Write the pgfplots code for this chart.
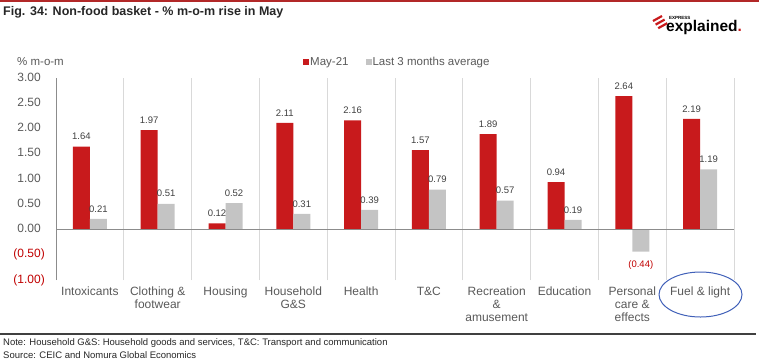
\documentclass[border=0pt]{standalone}
\usepackage{pgfplots}
\pgfplotsset{compat=1.18}
\usepackage{fontspec}
\setmainfont{Liberation Sans}
\definecolor{barred}{HTML}{C81A1C}
\definecolor{bargray}{HTML}{C4C4C4}
\definecolor{negred}{HTML}{C00000}
\definecolor{textgray}{HTML}{595959}
\definecolor{labgray}{HTML}{404040}
\definecolor{sepgray}{HTML}{D9D9D9}
\definecolor{axgray}{HTML}{8C8C8C}
\definecolor{circblue}{HTML}{4060B8}
\begin{document}
\begin{tikzpicture}
\useasboundingbox (0,0) rectangle (759pt,-362pt);
% top rule and title
\draw[line width=1.5pt, color={rgb,255:red,178;green,40;blue,40}] (0,-0.75pt) -- (759pt,-0.75pt);
\node[anchor=west, inner sep=0pt, text={rgb,255:red,38;green,38;blue,38}, font=\bfseries\fontsize{12.5}{14}\selectfont] at (3pt,-12.5pt) {Fig. 34: Non-food basket - \% m-o-m rise in May};
% logo
\foreach \i in {0,1,2}{
  \draw[barred, line width=2.2pt] (653pt+\i*2.6pt,-21pt-\i*3.6pt) -- (662pt+\i*2.6pt,-16pt-\i*3.6pt);
}
\node[anchor=south west, inner sep=0pt, font=\bfseries\fontsize{4.5}{5}\selectfont] at (669pt,-19.5pt) {EXPRESS};
\node[anchor=base west, inner sep=0pt, font=\bfseries\fontsize{15.5}{16}\selectfont] at (666pt,-31.5pt) {explained\textcolor{barred}{.}};
% y label
\node[anchor=west, inner sep=0pt, text=textgray, font=\fontsize{11.5}{12}\selectfont] at (17pt,-62pt) {\% m-o-m};
\begin{axis}[
  at={(56pt,-280pt)}, anchor=south west,
  width=678pt, height=202pt, scale only axis,
  ybar=0pt, bar width=17pt,
  xmin=-0.5, xmax=9.5, ymin=-1, ymax=3,
  enlargelimits=false,
  axis x line*=bottom, axis y line*=left,
  x axis line style={draw=none},
  y axis line style={draw=axgray, line width=1pt},
  xtick={0,...,9},
  xticklabels={Intoxicants,{Clothing \&\\footwear},Housing,{Household\\G\&S},Health,T\&C,{Recreation\\\&\\amusement},Education,{Personal\\care \&\\effects},Fuel \& light},
  xticklabel style={align=center, inner sep=0pt, anchor=north, yshift=-7pt, text=textgray, font=\fontsize{12}{12.8}\selectfont},
  ytick={-1,-0.5,...,3},
  yticklabels={\textcolor{negred}{(1.00)},\textcolor{negred}{(0.50)},0.00\phantom{)},0.50\phantom{)},1.00\phantom{)},1.50\phantom{)},2.00\phantom{)},2.50\phantom{)},3.00\phantom{)}},
  yticklabel style={anchor=east, inner sep=0pt, xshift=-11pt, text=textgray, font=\fontsize{12}{12}\selectfont},
  major tick length=0pt, minor tick length=0pt,
  tick style={draw=none},
  minor xtick={0.5,1.5,...,9.5},
  xminorgrids=true,
  minor x grid style={draw=sepgray, line width=0.9pt},
  nodes near coords,
  point meta=explicit symbolic,
  nodes near coords style={font=\fontsize{9.5}{10}\selectfont, text=labgray, inner ysep=6.5pt, inner xsep=0.5pt, anchor=south},
  legend style={at={(axis description cs:0.3643,1.079)}, anchor=west, draw=none, fill=none, inner sep=0pt, font=\fontsize{11.5}{12}\selectfont, text=textgray, legend columns=2, /tikz/every even column/.append style={column sep=16pt}, nodes={inner sep=1pt}},
  legend image code/.code={\fill[#1,draw=none] (0pt,-3pt) rectangle (6pt,3pt);},
]
\addplot[fill=barred, draw=none] coordinates {
  (0,1.64) [1.64] (1,1.97) [1.97] (2,0.12) [0.12] (3,2.11) [2.11] (4,2.16) [2.16]
  (5,1.57) [1.57] (6,1.89) [1.89] (7,0.94) [0.94] (8,2.64) [2.64] (9,2.19) [2.19]};
\addplot[fill=bargray, draw=none] coordinates {
  (0,0.21) [0.21] (1,0.51) [0.51] (2,0.52) [0.52] (3,0.31) [0.31] (4,0.39) [0.39]
  (5,0.79) [0.79] (6,0.57) [0.57] (7,0.19) [0.19] (8,-0.44) [{\smash{\raisebox{-22pt}{\textcolor{negred}{(0.44)}}}}] (9,1.19) [1.19]};
\legend{May-21, Last 3 months average}
\draw[axgray, line width=0.8pt] (axis cs:-0.5,0) -- (axis cs:9.5,0);
\end{axis}
% circle around Fuel & light
\draw[circblue, line width=1pt] (700.5pt,-294.5pt) ellipse [x radius=41.5pt, y radius=22.5pt];
% bottom rule and notes
\draw[line width=2pt, color={rgb,255:red,64;green,64;blue,64}] (0,-334pt) -- (756pt,-334pt);
\node[anchor=west, inner sep=0pt, text={rgb,255:red,38;green,38;blue,38}, font=\fontsize{9.5}{10}\selectfont] at (3pt,-343.5pt) {Note: Household G\&S: Household goods and services, T\&C: Transport and communication};
\node[anchor=west, inner sep=0pt, text={rgb,255:red,38;green,38;blue,38}, font=\fontsize{9.5}{10}\selectfont] at (3pt,-355.5pt) {Source: CEIC and Nomura Global Economics};
\end{tikzpicture}
\end{document}
